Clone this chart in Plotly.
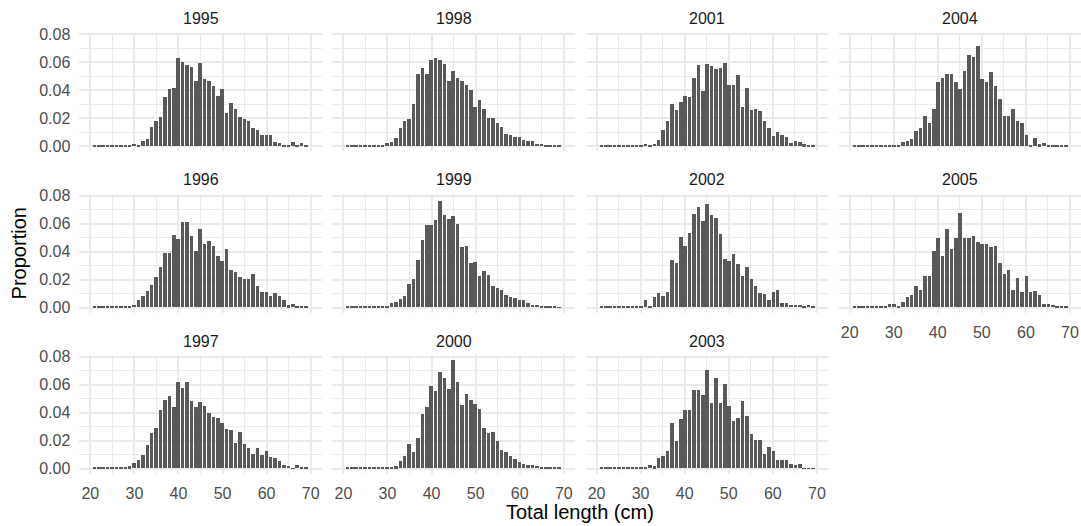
import plotly.graph_objects as go

# Length classes (cm), one bar per class
lengths = list(range(21, 70))

# Proportion at length, by survey year (classes 21..69 cm)
p1995 = [0.0003, 0.0003, 0.0003, 0.0003, 0.0003, 0.0003, 0.0003, 0.0003, 0.0003, 0.002,
         0.0005, 0.004, 0.005, 0.014, 0.018, 0.021, 0.035, 0.041, 0.042, 0.063,
         0.060, 0.058, 0.057, 0.047, 0.0595, 0.048, 0.047, 0.043, 0.036, 0.041,
         0.024, 0.031, 0.027, 0.021, 0.0195, 0.018, 0.013, 0.012, 0.0085, 0.008,
         0.008, 0.003, 0.0022, 0.0003, 0.0003, 0.0029, 0.0008, 0.0021, 0.0003]
p1996 = [0.0003, 0.0003, 0.0003, 0.0003, 0.0003, 0.0003, 0.0003, 0.001, 0.0012, 0.002,
         0.005, 0.0083, 0.0114, 0.016, 0.022, 0.029, 0.039, 0.039, 0.052, 0.049,
         0.0612, 0.0612, 0.051, 0.040, 0.056, 0.0455, 0.0476, 0.044, 0.037, 0.033,
         0.042, 0.027, 0.0255, 0.022, 0.0205, 0.020, 0.024, 0.0155, 0.011, 0.011,
         0.0083, 0.0105, 0.0083, 0.005, 0.0014, 0.0026, 0.0005, 0.001, 0.0005]
p1997 = [0.0003, 0.0003, 0.0003, 0.0007, 0.0003, 0.0003, 0.0007, 0.0005, 0.0014, 0.004,
         0.0057, 0.0093, 0.0164, 0.025, 0.0286, 0.0414, 0.049, 0.052, 0.044, 0.0614,
         0.0576, 0.0614, 0.0479, 0.044, 0.0476, 0.0448, 0.0398, 0.0367, 0.0362, 0.0321,
         0.0279, 0.0271, 0.0179, 0.0262, 0.0171, 0.0143, 0.010, 0.0143, 0.0098, 0.0126,
         0.0079, 0.0071, 0.005, 0.0026, 0.0017, 0.0002, 0.0021, 0.0007, 0.0007]
p1998 = [0.0003, 0.0003, 0.0003, 0.0003, 0.0003, 0.0003, 0.0008, 0.001, 0.0003, 0.0025,
         0.003, 0.006, 0.013, 0.018, 0.0195, 0.0305, 0.0515, 0.056, 0.0515, 0.062,
         0.0635, 0.0615, 0.059, 0.047, 0.054, 0.049, 0.0465, 0.044, 0.040, 0.0285,
         0.0335, 0.027, 0.020, 0.0205, 0.017, 0.014, 0.009, 0.008, 0.007, 0.0065,
         0.0043, 0.0036, 0.0036, 0.0015, 0.002, 0.0008, 0.0005, 0.001, 0.0003]
p1999 = [0.0003, 0.0003, 0.0003, 0.0003, 0.0003, 0.0003, 0.0003, 0.0003, 0.0003, 0.0012,
         0.003, 0.0036, 0.0062, 0.0083, 0.017, 0.0205, 0.034, 0.048, 0.0586, 0.059,
         0.0626, 0.076, 0.066, 0.063, 0.065, 0.0598, 0.0433, 0.044, 0.032, 0.0326,
         0.0226, 0.026, 0.0233, 0.0155, 0.014, 0.0126, 0.0086, 0.0074, 0.0067, 0.0055,
         0.0055, 0.0033, 0.0019, 0.0019, 0.0012, 0.0005, 0.0012, 0.0005, 0.0002]
p2000 = [0.0003, 0.0003, 0.0003, 0.0003, 0.0003, 0.0003, 0.0005, 0.0007, 0.0003, 0.0007,
         0.0007, 0.0014, 0.005, 0.0086, 0.0171, 0.0114, 0.0214, 0.039, 0.0436, 0.0586,
         0.0552, 0.069, 0.0648, 0.0567, 0.0771, 0.0619, 0.0455, 0.0533, 0.049, 0.0462,
         0.0424, 0.029, 0.0255, 0.0262, 0.0193, 0.0133, 0.0114, 0.0086, 0.0064, 0.0043,
         0.0031, 0.0026, 0.0026, 0.0019, 0.0007, 0.0012, 0.0007, 0.0005, 0.0003]
p2001 = [0.0003, 0.0003, 0.0003, 0.0003, 0.0005, 0.0003, 0.0003, 0.0012, 0.0003, 0.0008,
         0.0015, 0.0012, 0.0015, 0.0045, 0.0115, 0.0185, 0.030, 0.0257, 0.032, 0.0357,
         0.035, 0.0486, 0.058, 0.0393, 0.0586, 0.0571, 0.055, 0.0557, 0.0593, 0.0436,
         0.044, 0.0507, 0.028, 0.042, 0.0257, 0.0264, 0.025, 0.0179, 0.0129, 0.0071,
         0.010, 0.0079, 0.0064, 0.0024, 0.0036, 0.0029, 0.0014, 0.0003, 0.0003]
p2002 = [0.0003, 0.0003, 0.0003, 0.0007, 0.001, 0.0003, 0.0003, 0.0003, 0.0003, 0.0012,
         0.0055, 0.0012, 0.0076, 0.0105, 0.0083, 0.011, 0.034, 0.032, 0.0505, 0.044,
         0.053, 0.067, 0.072, 0.062, 0.074, 0.066, 0.064, 0.0526, 0.0348, 0.0333,
         0.0383, 0.031, 0.0226, 0.029, 0.0205, 0.0155, 0.0105, 0.0098, 0.0055, 0.011,
         0.0126, 0.0033, 0.0033, 0.0019, 0.0019, 0.0019, 0.0007, 0.0017, 0.0005]
p2003 = [0.0003, 0.0003, 0.0003, 0.0003, 0.0003, 0.0003, 0.0003, 0.0003, 0.0003, 0.0003,
         0.0003, 0.0026, 0.0014, 0.0076, 0.009, 0.0126, 0.0326, 0.0198, 0.0355, 0.0419,
         0.0419, 0.0562, 0.0562, 0.0526, 0.0705, 0.0469, 0.0645, 0.0469, 0.0605, 0.0448,
         0.034, 0.0362, 0.0483, 0.0376, 0.0248, 0.0205, 0.0205, 0.0105, 0.0155, 0.0126,
         0.0062, 0.0062, 0.0062, 0.0033, 0.0026, 0.0033, 0.0002, 0.0002, 0.0002]
p2004 = [0.0003, 0.0003, 0.0003, 0.0003, 0.0003, 0.0003, 0.0003, 0.001, 0.0013, 0.0005,
         0.0005, 0.003, 0.004, 0.005, 0.011, 0.013, 0.0215, 0.017, 0.027, 0.0457,
         0.0486, 0.052, 0.052, 0.0457, 0.0407, 0.0536, 0.065, 0.064, 0.0714, 0.048,
         0.0457, 0.053, 0.043, 0.034, 0.022, 0.0215, 0.027, 0.018, 0.0167, 0.008,
         0.0007, 0.0057, 0.0014, 0.0024, 0.0003, 0.0003, 0.0003, 0.0003, 0.0003]
p2005 = [0.0003, 0.0003, 0.0003, 0.0003, 0.0003, 0.0003, 0.0003, 0.0005, 0.0026, 0.0026,
         0.0007, 0.0036, 0.0076, 0.009, 0.0155, 0.0126, 0.0226, 0.0226, 0.0405, 0.0498,
         0.0369, 0.0562, 0.0419, 0.0498, 0.0676, 0.0498, 0.0498, 0.0512, 0.0469, 0.0455,
         0.0455, 0.0433, 0.044, 0.0319, 0.024, 0.0269, 0.0126, 0.0212, 0.0112, 0.0226,
         0.0112, 0.0119, 0.009, 0.0026, 0.0026, 0.0017, 0.0007, 0.0005, 0.0003]

years = ["1995", "1996", "1997", "1998", "1999", "2000",
         "2001", "2002", "2003", "2004", "2005"]
series = [p1995, p1996, p1997, p1998, p1999, p2000,
          p2001, p2002, p2003, p2004, p2005]

x_ticks = [20, 30, 40, 50, 60, 70]
y_ticks = [0.00, 0.02, 0.04, 0.06, 0.08]

W, H = 1081, 526
BAR = "#595959"
GRID = "#EBEBEB"
FONT = "Liberation Sans, Arial, sans-serif"

# Panel geometry in pixels (facets filled column by column, 3 rows)
col_left = [79.3, 332.4, 585.5, 838.6]
panel_w = 242.4
row_top = [32.6, 194.1, 355.4]
row_bot = [151.4, 312.9, 474.2]
x_range = [17.5, 72.5]
y_range = [-0.00386, 0.081]

fig = go.Figure()
annotations = []
n_rows = 3

for i, (yr, vals) in enumerate(zip(years, series)):
    col = i // n_rows
    row = i % n_rows
    k = i + 1
    xa = "x" if k == 1 else f"x{k}"
    ya = "y" if k == 1 else f"y{k}"
    fig.add_trace(go.Bar(x=lengths, y=vals, width=0.8, marker=dict(color=BAR, line=dict(width=0)),
                         xaxis=xa, yaxis=ya, showlegend=False, hoverinfo="x+y"))

    x0 = col_left[col] / W
    x1 = (col_left[col] + panel_w) / W
    y0 = 1 - row_bot[row] / H
    y1 = 1 - row_top[row] / H

    # x labels on the lowest panel of each column
    last_in_col = (row == n_rows - 1) or (i + 1 == len(years))
    xaxis = dict(domain=[x0, min(x1, 1.0)], range=x_range, anchor=ya,
                 tickmode="array", tickvals=x_ticks, ticktext=[str(v) for v in x_ticks],
                 showticklabels=last_in_col, ticks="", ticklabelstandoff=8,
                 showgrid=True, gridcolor=GRID, gridwidth=1.8, zeroline=False,
                 showline=False, automargin=False, fixedrange=True,
                 tickfont=dict(family=FONT, size=16, color="#4D4D4D"),
                 minor=dict(tickmode="array", tickvals=[25, 35, 45, 55, 65],
                            showgrid=True, gridcolor=GRID, gridwidth=0.9, ticks=""))
    yaxis = dict(domain=[y0, y1], range=y_range, anchor=xa,
                 tickmode="array", tickvals=y_ticks, ticktext=[f"{v:.2f}" for v in y_ticks],
                 showticklabels=(col == 0), ticks="", ticklabelstandoff=8,
                 showgrid=True, gridcolor=GRID, gridwidth=1.8, zeroline=False,
                 showline=False, automargin=False, fixedrange=True,
                 tickfont=dict(family=FONT, size=16, color="#4D4D4D"),
                 minor=dict(tickmode="array", tickvals=[0.01, 0.03, 0.05, 0.07],
                            showgrid=True, gridcolor=GRID, gridwidth=0.9, ticks=""))
    fig.update_layout({("xaxis" if k == 1 else f"xaxis{k}"): xaxis,
                       ("yaxis" if k == 1 else f"yaxis{k}"): yaxis})

    # facet strip label
    annotations.append(dict(text=yr, x=(col_left[col] + panel_w / 2) / W,
                            y=1 - (row_top[row] - 14.2) / H, xref="paper", yref="paper",
                            xanchor="center", yanchor="middle", showarrow=False,
                            font=dict(family=FONT, size=16, color="#1A1A1A")))

annotations.append(dict(text="Total length (cm)", x=(col_left[0] + col_left[3] + panel_w) / 2 / W,
                        y=1 - 512 / H, xref="paper", yref="paper", xanchor="center",
                        yanchor="middle", showarrow=False,
                        font=dict(family=FONT, size=20, color="#000000")))
annotations.append(dict(text="Proportion", x=19 / W, y=1 - (row_top[0] + row_bot[2]) / 2 / H,
                        xref="paper", yref="paper", xanchor="center", yanchor="middle",
                        textangle=-90, showarrow=False,
                        font=dict(family=FONT, size=20, color="#000000")))

fig.update_layout(width=W, height=H, margin=dict(l=0, r=0, t=0, b=0, pad=0),
                  paper_bgcolor="white", plot_bgcolor="white", template="none",
                  bargap=0, annotations=annotations, font=dict(family=FONT))

fig.write_html("out.html", config={"displayModeBar": False})
